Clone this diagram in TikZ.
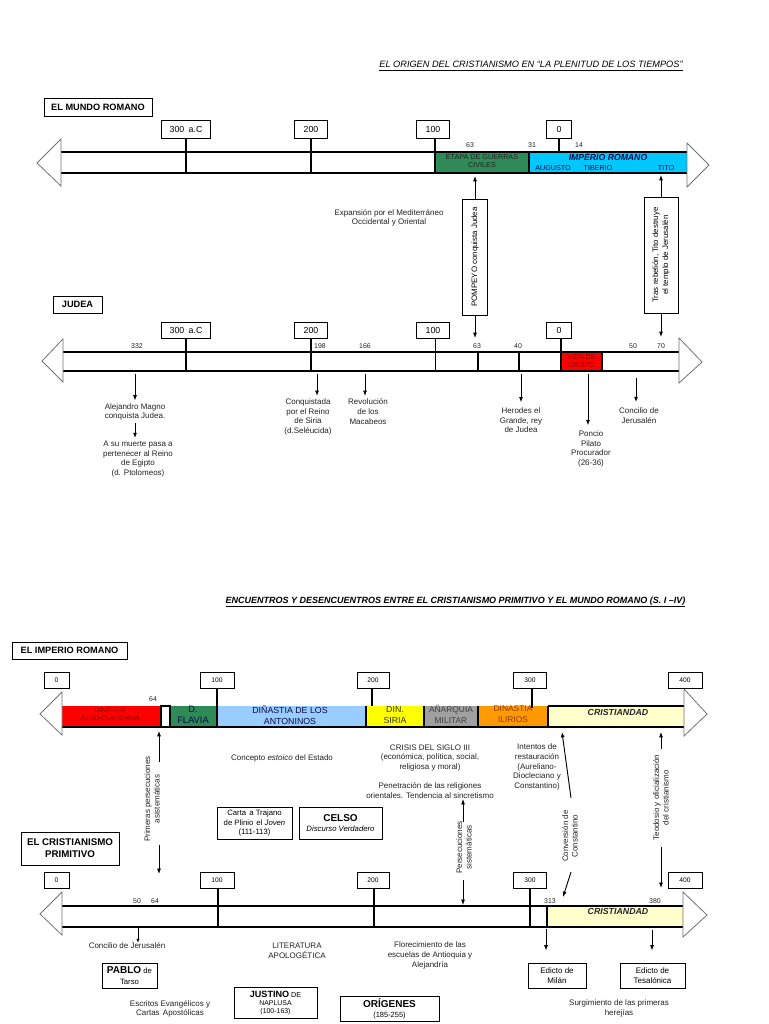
\documentclass[tikz,border=0pt]{standalone}
\usepackage{fontspec}
\setmainfont{Liberation Sans}
\usetikzlibrary{arrows.meta}
\definecolor{cgreen}{RGB}{46,139,87}
\definecolor{ccyan}{RGB}{0,200,255}
\definecolor{cred}{RGB}{255,0,0}
\definecolor{cblue}{RGB}{153,204,255}
\definecolor{cyell}{RGB}{255,255,0}
\definecolor{cgray}{RGB}{160,160,160}
\definecolor{corange}{RGB}{255,153,0}
\definecolor{clight}{RGB}{255,255,204}
\definecolor{txt}{RGB}{35,35,35}
\definecolor{navy}{RGB}{10,10,70}
\definecolor{dred}{RGB}{140,0,0}
\definecolor{brown}{RGB}{140,60,0}
\tikzset{
 lbl/.style={font=\fontsize{6}{7.2}\selectfont, align=center, inner sep=0pt, text=txt},
 num/.style={font=\fontsize{5.2}{6}\selectfont, inner sep=0pt, text=txt},
 bx/.style={draw, line width=0.7pt, inner sep=0pt, align=center},
 wh/.style 2 args={minimum width=#1*0.75pt, minimum height=#2*0.75pt},
 yr/.style={bx, font=\fontsize{6.6}{8}\selectfont},
 yrs/.style={bx, font=\fontsize{5}{6}\selectfont},
 bar/.style={line width=0.8pt},
 head/.style={draw=black!55, line width=0.6pt, fill=white},
 tick/.style={line width=0.8pt},
 arr/.style={-{Latex[length=4pt,width=3pt]}, line width=0.7pt},
 seg/.style={font=\fontsize{5.4}{6.4}\selectfont, align=center, inner sep=0pt},
}
\begin{document}
\begin{tikzpicture}[x=0.75pt,y=-0.75pt]
\fill[white] (0,0) rectangle (768,1024);
\useasboundingbox (0,0) rectangle (768,1024);

%================ SECTION 1 =================
\node[font=\itshape\fontsize{6.9}{7}\selectfont, inner sep=0pt] (title1) at (531,66) {\underline{EL ORIGEN DEL CRISTIANISMO EN “LA PLENITUD DE LOS TIEMPOS”}};
\node[bx, wh={108}{18}, font=\bfseries\fontsize{6.9}{8}\selectfont] (mundo) at (98,107) {EL MUNDO ROMANO};

\fill[cgreen] (435,152) rectangle (529,173);
\fill[ccyan] (529,152) rectangle (687,173);
\draw[bar] (61,152) -- (687,152) (61,173) -- (687,173);
\draw[bar] (529,152) -- (529,173);
\draw[head] (61,139) -- (37,163) -- (61,186) -- cycle;
\draw[head] (687,143) -- (709,165) -- (687,187) -- cycle;
\coordinate (b1t) at (0,152);
\coordinate (b1b) at (0,173);

\node[yr, wh={49}{18}] (a300) at (186,129) {300\hspace{0.5em}a.C};
\node[yr, wh={33}{18}] (a200) at (311,129) {200};
\node[yr, wh={33}{18}] (a100) at (433,129) {100};
\node[yr, wh={25}{18}] (a0) at (559,129) {0};
\draw[tick] (a300.south) -- (a300.south |- b1b);
\draw[tick] (a200.south) -- (a200.south |- b1b);
\draw[tick] ([xshift=1.5pt]a100.south) -- ([xshift=1.5pt]a100.south |- b1b);
\draw[tick] (a0.south) -- (a0.south |- b1t);

\node[num] (n63a) at (470,145) {63};
\node[num] (n31a) at (532,145) {31};
\node[num] (n14a) at (579,145) {14};

\node[seg, font=\fontsize{5.4}{6}\selectfont, text=txt] (etapa) at (482,161.5) {ETAPA DE GUERRAS\\CIVILES};
\node[font=\bfseries\itshape\fontsize{6.5}{7}\selectfont, text=navy, inner sep=0pt] (imperio) at (608,157) {IMPÉRIO ROMANO};
\node[seg, text=navy] (aug) at (553,168) {AUGUSTO};
\node[seg, text=navy] (tib) at (598,168) {TIBERIO};
\node[seg, text=navy] (tito) at (666,168) {TITO};

\node[lbl] (expan) at (389,218) {Expansión por el Mediterráneo\\Occidental y Oriental};

\node[bx, rotate=90, wh={116}{25}, font=\fontsize{5.9}{7}\selectfont] (pomp) at (475,257) {POMPEYO conquista Judea};
\node[bx, rotate=90, wh={116}{34}, font=\fontsize{5.9}{7.4}\selectfont] (titob) at (661,255) {Tras rebelión, Tito destruye\\el templo de Jerusalén};
\coordinate (pompup) at (475,176);
\coordinate (pompdn) at (475,338);
\coordinate (titoup) at (661,175);
\coordinate (titodn) at (661,337);
\draw[arr] (pomp.east) -- (pompup);
\draw[arr] (pomp.west) -- (pompdn);
\draw[arr] (titob.east) -- (titoup);
\draw[arr] (titob.west) -- (titodn);

%================ SECTION 2 (JUDEA) =================
\node[bx, wh={49}{17}, font=\bfseries\fontsize{6.9}{8}\selectfont] (judea) at (77.5,304.5) {JUDEA};

\fill[cred] (561,352) rectangle (602,371);
\draw[bar] (63,352) -- (679,352) (63,371) -- (679,371);
\draw[bar] (602,352) -- (602,371);
\draw[head] (63,339) -- (42,361) -- (63,382) -- cycle;
\draw[head] (679,338) -- (702,362) -- (679,383) -- cycle;
\coordinate (b2t) at (0,352);
\coordinate (b2b) at (0,371);

\node[yr, wh={49}{16}] (j300) at (186,330) {300\hspace{0.5em}a.C};
\node[yr, wh={33}{16}] (j200) at (311,330) {200};
\node[yr, wh={33}{16}] (j100) at (433,330) {100};
\node[yr, wh={25}{16}] (j0) at (559,330) {0};
\draw[tick] (j300.south) -- (j300.south |- b2b);
\draw[tick] (j200.south) -- (j200.south |- b2b);
\draw[tick] ([xshift=2pt]j100.south) -- ([xshift=2pt]j100.south |- b2b);
\draw[tick] ([xshift=1.5pt]j0.south) -- ([xshift=1.5pt]j0.south |- b2b);
\draw[tick] (478,352) -- (478,371);
\draw[tick] (519,352) -- (519,371);
\node[seg, font=\fontsize{5.2}{6.2}\selectfont, text=dred] (vida) at (581.5,361.5) {VIDA DE\\CRISTO};

\node[num] (n332) at (137,346) {332};
\node[num] (n198) at (320,346) {198};
\node[num] (n166) at (365,346) {166};
\node[num] (n63b) at (477,346) {63};
\node[num] (n40) at (518,346) {40};
\node[num] (n50) at (633,346) {50};
\node[num] (n70) at (661,346) {70};

\node[lbl] (alej) at (135,412) {Alejandro Magno\\conquista Judea.};
\node[lbl] (asu) at (138,459) {A su muerte pasa a\\pertenecer al Reino\\de Egipto\\(d. Ptolomeos)};
\node[lbl] (conq) at (308,417) {Conquistada\\por el Reino\\de Siria\\(d.Seléucida)};
\node[lbl] (revo) at (368,411.5) {Revolución\\de los\\Macabeos};
\node[lbl] (hero) at (521,420.5) {Herodes el\\Grande, rey\\de Judea};
\node[lbl] (ponc) at (591,449) {Poncio\\Pilato\\Procurador\\(26-36)};
\node[lbl] (conc1) at (639,415.5) {Concilio de\\Jerusalén};

\coordinate (s1) at (135,374);
\coordinate (s2) at (317,374);
\coordinate (s3) at (365,374);
\coordinate (s4) at (521,374);
\coordinate (s5) at (588,374);
\coordinate (s6) at (636,378);
\draw[arr, shorten >=2pt] (s1) -- (s1 |- alej.north);
\draw[arr] ([yshift=-2pt]alej.south) -- ([yshift=2pt]alej.south |- asu.north);
\draw[arr, shorten >=2pt] (s2) -- (s2 |- conq.north);
\draw[arr, shorten >=2pt] (s3) -- (s3 |- revo.north);
\draw[arr, shorten >=4pt] (s4) -- (s4 |- hero.north);
\draw[arr, shorten >=4pt] (s5) -- (s5 |- ponc.north);
\draw[arr, shorten >=4pt] (s6) -- (s6 |- conc1.north);

%================ SECTION 3 =================
\node[font=\bfseries\itshape\fontsize{6.75}{7}\selectfont, inner sep=0pt] (title2) at (455.5,602) {\underline{ENCUENTROS Y DESENCUENTROS ENTRE EL CRISTIANISMO PRIMITIVO Y EL MUNDO ROMANO (S. I –IV)}};
\node[bx, wh={115}{17}, font=\bfseries\fontsize{6.9}{8}\selectfont] (improm) at (69.5,650.5) {EL IMPERIO ROMANO};

\fill[cred] (62,706) rectangle (161,727);
\fill[cgreen] (170,706) rectangle (217,727);
\fill[cblue] (217,706) rectangle (366,727);
\fill[cyell] (366,706) rectangle (424,727);
\fill[cgray] (424,706) rectangle (478,727);
\fill[corange] (478,706) rectangle (548,727);
\fill[clight] (548,706) rectangle (684,727);
\draw[bar] (161,706) rectangle (170,727);
\foreach \xx in {170,217,366,424,478,548} \draw[bar] (\xx,706) -- (\xx,727);
\draw[bar] (62,727) -- (684,727);
\draw[bar] (548,706) -- (684,706);
\draw[head] (62,692) -- (40,714) -- (62,735) -- cycle;
\draw[head] (684,689) -- (707,714) -- (684,736) -- cycle;
\coordinate (b3t) at (0,706);
\coordinate (b3b) at (0,727);

\node[yrs, wh={25}{16}] (r0) at (56.5,680) {0};
\node[yrs, wh={34}{16}] (r100) at (217,680) {100};
\node[yrs, wh={32}{16}] (r200) at (373,680) {200};
\node[yrs, wh={33}{16}] (r300) at (530,680) {300};
\node[yrs, wh={34}{16}] (r400) at (685,680) {400};
\draw[tick] (r100.south) -- (r100.south |- b3t);
\draw[tick] ([xshift=-0.75pt]r200.south) -- ([xshift=-0.75pt]r200.south |- b3t);
\draw[tick] ([xshift=1.5pt]r300.south) -- ([xshift=1.5pt,yshift=-1.5pt]r300.south |- b3t);
\node[num] (n64c) at (153,699) {64};

\node[seg, font=\fontsize{5}{6}\selectfont, text=dred] (julio) at (110,714) {DINASTIA\\JULIO-CLAUDIANA};
\node[seg, font=\fontsize{7}{8}\selectfont, text=navy] (flavia) at (193,715) {D.\\FLAVIA};
\node[seg, font=\fontsize{6.6}{8}\selectfont, text=navy] (anton) at (290,715) {DIÑASTIA DE LOS\\ANTONINOS};
\node[seg, font=\fontsize{6.6}{8}\selectfont, text=black!80] (siria) at (395,715) {DIN.\\SIRIA};
\node[seg, font=\fontsize{6.3}{8}\selectfont, text=black!75] (anarq) at (451,714) {AÑARQUIA\\MILITAR};
\node[seg, font=\fontsize{6.3}{8}\selectfont, text=brown] (ilir) at (513,714) {DINASTIA\\ILIRIOS};
\node[font=\bfseries\itshape\fontsize{6.6}{7}\selectfont, text=black!85, inner sep=0pt] (crist1) at (618,712) {CRISTIANDAD};

\node[lbl, rotate=90] (primeras) at (152,799) {Primeras persecuciones\\asistemáticas};
\coordinate (pr1) at (159,762);
\coordinate (pr2) at (159,845);
\coordinate (pr1e) at (159,731);
\coordinate (pr2e) at (159,874);
\draw[arr] (pr1) -- (pr1e);
\draw[arr] (pr2) -- (pr2e);

\node[lbl] (estoico) at (282,758) {Concepto \textit{estoico} del Estado};
\node[bx, wh={75}{32}, font=\fontsize{5.8}{7.4}\selectfont] (carta) at (254.5,823) {Carta\hspace{0.4em}a Trajano\\de Plinio\hspace{0.4em}el \textit{Joven}\\(111-113)};
\node[bx, wh={83}{32}, font=\fontsize{5.8}{7.6}\selectfont] (celso) at (340.5,823) {{\bfseries\fontsize{7.5}{8}\selectfont CELSO}\\\textit{Discurso Verdadero}};
\node[bx, wh={98}{33}, font=\bfseries\fontsize{7.3}{9}\selectfont] (cprim) at (70,848.5) {EL CRISTIANISMO\\PRIMITIVO};

\node[lbl] (crisis) at (430,758) {CRISIS DEL SIGLO III\\(económica, política, social,\\religiosa y moral)};
\node[lbl] (penet) at (430,790.5) {Penetración de las religiones\\orientales. Tendencia al sincretismo};
\node[lbl, rotate=90] (persec) at (464,847.5) {Persecuciones\\sistemáticas};
\coordinate (pe1) at (463,822);
\coordinate (pe1e) at (463,799);
\coordinate (pe2) at (463,880);
\coordinate (pe2e) at (463,905);
\draw[arr] (pe1) -- (pe1e);
\draw[arr] (pe2) -- (pe2e);

\node[lbl] (intent) at (537,767) {Intentos de\\restauración\\(Aureliano-\\Diocleciano y\\Constantino)};
\coordinate (in1) at (571,798);
\coordinate (in1e) at (562,732);
\draw[arr] (in1) -- (in1e);
\node[lbl, rotate=90] (conver) at (570,836) {Conversión de\\Constantino};
\coordinate (cv1) at (571,872);
\coordinate (cv1e) at (563,897);
\draw[arr] (cv1) -- (cv1e);

\node[lbl, rotate=90] (teod) at (661,797.5) {Teodosio y oficialización\\del cristianismo};
\coordinate (te1) at (661,749);
\coordinate (te1e) at (661,732);
\coordinate (te2) at (661,847);
\coordinate (te2e) at (661,888);
\draw[arr] (te1) -- (te1e);
\draw[arr] (te2) -- (te2e);

%================ SECTION 4 =================
\fill[clight] (547,906) rectangle (683,927);
\draw[bar] (62,906) -- (683,906) (62,927) -- (683,927);
\draw[head] (62,892) -- (40,914) -- (62,935) -- cycle;
\draw[head] (683,892) -- (707,915) -- (683,937) -- cycle;
\coordinate (b4t) at (0,906);
\coordinate (b4b) at (0,927);

\node[yrs, wh={25}{16}] (q0) at (56.5,880) {0};
\node[yrs, wh={34}{16}] (q100) at (217,880) {100};
\node[yrs, wh={32}{16}] (q200) at (373,880) {200};
\node[yrs, wh={33}{16}] (q300) at (530,880) {300};
\node[yrs, wh={34}{16}] (q400) at (685,880) {400};
\draw[tick] ([xshift=0.75pt]q100.south) -- ([xshift=0.75pt]q100.south |- b4b);
\draw[tick] ([xshift=0.75pt]q200.south) -- ([xshift=0.75pt]q200.south |- b4b);
\draw[tick] (q300.south) -- (q300.south |- b4b);
\draw[tick] (547,906) -- (547,927);
\node[font=\bfseries\itshape\fontsize{6.6}{7}\selectfont, text=black!85, inner sep=0pt] (crist2) at (618,911) {CRISTIANDAD};

\node[num] (n50d) at (137,901) {50};
\node[num] (n64d) at (155,901) {64};
\node[num] (n313) at (550,901) {313};
\node[num] (n380) at (655,901) {380};

\node[lbl] (conc2) at (127,946) {Concilio de Jerusalén};
\coordinate (cj) at (138,928);
\draw[-{Latex[length=3pt,width=2.5pt]}, line width=0.6pt] (cj) -- (cj |- conc2.north);

\node[lbl] (liter) at (297,951) {LITERATURA\\APOLOGÉTICA};
\node[bx, wh={55}{25}, font=\fontsize{5.8}{8}\selectfont] (pablo) at (129.5,975.5) {{\bfseries\fontsize{7.5}{8}\selectfont PABLO} de\\Tarso};
\node[lbl] (escr) at (170,1009) {Escritos Evangélicos y\\Cartas\hspace{0.4em}Apostólicas};
\node[bx, wh={83}{31}, font=\fontsize{5.2}{5.9}\selectfont] (justino) at (275.5,1003) {{\bfseries\fontsize{6.8}{6.8}\selectfont JUSTINO} {\fontsize{5.4}{6}\selectfont DE}\\[0.5pt]NAPLUSA\\(100-163)};
\node[bx, wh={99}{25}, font=\fontsize{5.6}{7.6}\selectfont] (orig) at (389.5,1008.5) {{\bfseries\fontsize{7.5}{8}\selectfont ORÍGENES}\\(185-255)};
\node[lbl] (flor) at (430,955.5) {Florecimiento de las\\escuelas de Antioquia y\\Alejandría};

\node[bx, wh={58}{25}, font=\fontsize{6}{8}\selectfont] (milan) at (557,975.5) {Edicto de\\Milán};
\node[bx, wh={65}{25}, font=\fontsize{6}{8}\selectfont] (tesal) at (652.5,975.5) {Edicto de\\Tesalónica};
\coordinate (em) at (546,929);
\coordinate (et) at (652,930);
\draw[arr, shorten >=9pt] (em) -- (em |- milan.north);
\draw[arr, shorten >=9pt] (et) -- (et |- tesal.north);
\node[lbl] (surg) at (619,1008.5) {Surgimiento de las primeras\\herejías};
\end{tikzpicture}
\end{document}
